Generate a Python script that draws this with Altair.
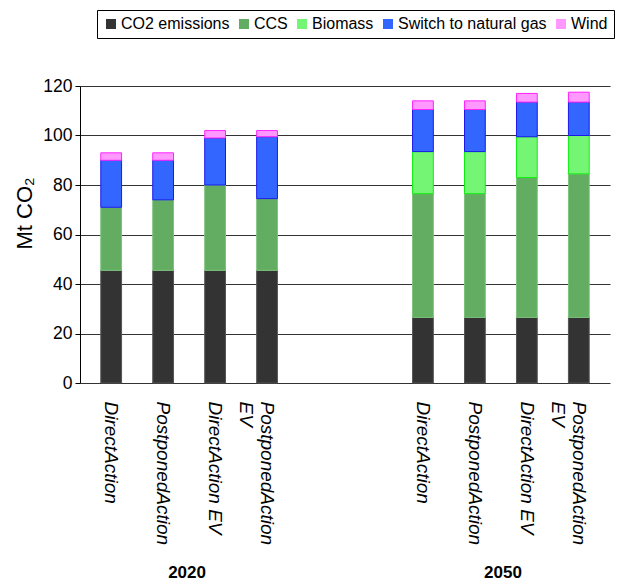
import altair as alt
import pandas as pd

years = ["2020", "2050"]
scenarios = ["DirectAction", "PostponedAction", "DirectAction EV", "PostponedAction EV"]
components = ["CO2 emissions", "CCS", "Biomass", "Switch to natural gas", "Wind"]

# Mt CO2 by component, one entry per scenario (order as in `scenarios`)
co2_2020 = [45.5, 45.5, 45.5, 45.5]
ccs_2020 = [25.5, 28.5, 34.5, 29.0]
bio_2020 = [0.0, 0.0, 0.0, 0.0]
gas_2020 = [19.0, 16.0, 19.0, 25.0]
wind_2020 = [3.0, 3.0, 3.0, 2.5]

co2_2050 = [26.5, 26.5, 26.5, 26.5]
ccs_2050 = [50.0, 50.0, 56.5, 58.0]
bio_2050 = [17.0, 17.0, 16.5, 15.5]
gas_2050 = [17.0, 17.0, 14.0, 13.5]
wind_2050 = [3.5, 3.5, 3.5, 4.0]

fills = ["#333333", "#62ad62", "#74f574", "#3366ff", "#ff99ff"]
strokes = ["#555555", "#7cc27c", "#11ee11", "#1a1aee", "#ff22ff"]

series = {
    "2020": [co2_2020, ccs_2020, bio_2020, gas_2020, wind_2020],
    "2050": [co2_2050, ccs_2050, bio_2050, gas_2050, wind_2050],
}

rows = []
for year in years:
    for si, scen in enumerate(scenarios):
        for ci, comp in enumerate(components):
            v = series[year][ci][si]
            if v > 0:
                rows.append({"slot": f"{year}|{scen}", "component": comp,
                             "order": ci, "value": v})
bars_df = pd.DataFrame(rows)

# two empty slots separate the year groups
slot_domain = ([f"2020|{s}" for s in scenarios] + ["gap1", "gap2"]
               + [f"2050|{s}" for s in scenarios])

years_df = pd.DataFrame({"year": years})

W, H = 530, 297
FONT = "Liberation Sans"

label_expr = ("indexof(datum.value, 'gap') == 0 ? '' : "
              "(indexof(datum.value, 'PostponedAction EV') >= 0 ? "
              "['PostponedAction', 'EV'] : split(datum.value, '|')[1])")

x_scale = alt.Scale(domain=slot_domain, paddingInner=0.6, paddingOuter=0.4)

bars = alt.Chart(bars_df).mark_bar(strokeWidth=1).encode(
    x=alt.X("slot:N", scale=x_scale, sort=slot_domain, title=None,
            axis=alt.Axis(labelExpr=label_expr, labelAngle=90, labelAlign="left",
                          labelBaseline="middle", labelFont=FONT, labelFontSize=19,
                          labelFontStyle="italic", labelColor="black",
                          labelPadding=18, labelLineHeight=21, labelLimit=300,
                          ticks=False, tickSize=0, domain=False, grid=False)),
    y=alt.Y("value:Q", stack="zero",
            scale=alt.Scale(domain=[0, 120], nice=False),
            axis=alt.Axis(values=[0, 20, 40, 60, 80, 100, 120], title="Mt CO₂",
                          titleFont=FONT, titleFontSize=22, titleFontWeight="normal",
                          titleColor="black", titleX=-56, titleY=127,
                          titleAngle=270, titleAlign="center", titleBaseline="middle",
                          labelFont=FONT, labelFontSize=17.5, labelColor="black",
                          labelPadding=3, tickSize=5, tickColor="black",
                          domainColor="black", grid=True, gridColor="#333333",
                          gridWidth=1.2)),
    fill=alt.Fill("component:N",
                  scale=alt.Scale(domain=components, range=fills),
                  legend=alt.Legend(orient="none", legendX=17, legendY=-76,
                                    direction="horizontal", columns=5, title=None,
                                    symbolType="square", symbolSize=100,
                                    symbolStrokeWidth=0,
                                    labelFont=FONT, labelFontSize=16,
                                    labelColor="black", labelOffset=2,
                                    columnPadding=6, padding=6,
                                    strokeColor="black", labelLimit=300)),
    stroke=alt.Stroke("component:N",
                      scale=alt.Scale(domain=components, range=strokes),
                      legend=None),
    order=alt.Order("order:Q", sort="ascending"),
)

# group captions under each block of four bars
year_labels = alt.Chart(years_df).mark_text(
    font=FONT, fontSize=17, fontWeight="bold", color="black", baseline="middle"
).encode(
    x=alt.X("year:N", scale=alt.Scale(type="point", domain=years, padding=0.339),
            axis=None),
    y=alt.value(H + 190),
    text="year:N",
)

chart = alt.layer(bars, year_labels).resolve_scale(x="independent").properties(
    width=W, height=H,
    autosize=alt.AutoSizeParams(type="none"),
    padding={"left": 80, "top": 86, "right": 7, "bottom": 198},
).configure_view(stroke=None)

chart.save("out.html", embed_options={"renderer": "svg", "actions": False})
